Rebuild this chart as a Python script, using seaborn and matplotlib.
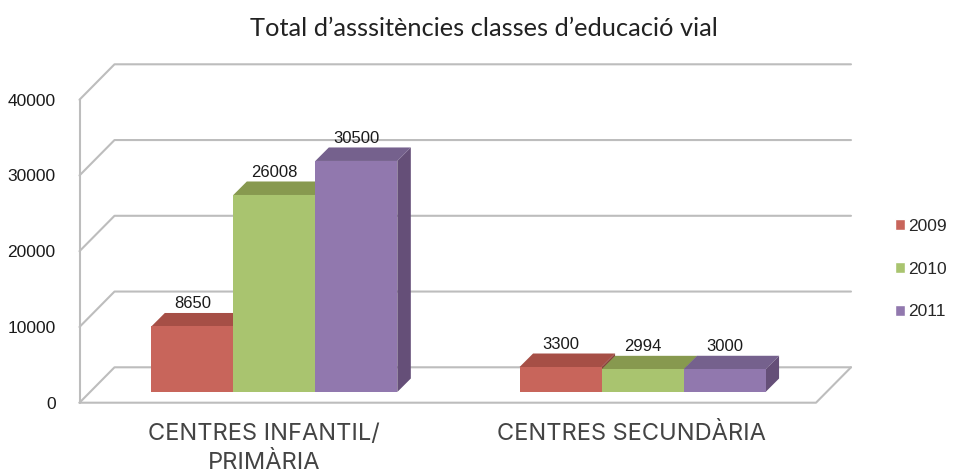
import matplotlib.pyplot as plt
import pandas as pd
import seaborn as sns
from matplotlib.patches import Polygon

centres = ['CENTRES INFANTIL/\nPRIMÀRIA', 'CENTRES SECUNDÀRIA']
years = ['2009', '2010', '2011']
values_2009 = [8650, 3300]
values_2010 = [26008, 2994]
values_2011 = [30500, 3000]
y_ticks = [0, 10000, 20000, 30000, 40000]
title = 'Total d’asssitències classes d’educació vial'

front_colors = ['#C8655B', '#A9C46F', '#9178AE']
top_colors = ['#A64F46', '#87994F', '#75618D']
side_colors = ['#87423B', '#6E7F42', '#654F78']
grid_color = '#BDBDBD'

W, H = 956, 474
# bars stand on a plane, px positions of that plane in the picture
left, right, base, top = 90.2, 826.7, 392, 89

sns.set_style('white')
plt.rcParams['font.family'] = ['Liberation Sans', 'DejaVu Sans']

df = pd.DataFrame({'Centre': centres * 3,
                   'Any': [y for y in years for _ in centres],
                   'Total': values_2009 + values_2010 + values_2011})

fig = plt.figure(figsize=(W / 100, H / 100), dpi=100)
ax = fig.add_axes([left / W, (H - base) / H, (right - left) / W, (base - top) / H])
sns.barplot(data=df, x='Centre', y='Total', hue='Any', hue_order=years,
            palette=front_colors, saturation=1, width=0.668, gap=0, ax=ax)
ax.set_xlim(-0.5, 1.5)
ax.set_ylim(0, 40000)
ax.axis('off')

# px to data units
ux = 2 / (right - left)
uy = 40000 / (base - top)


def line(xs, ys):
    ax.plot(xs, ys, color=grid_color, lw=1.5, clip_on=False, zorder=1,
            solid_capstyle='round')


front_x, front_y = -10.7 * ux, -10.7 * uy
back_x, back_y = 24.3 * ux, 24.7 * uy

# walls and floor
for t in y_ticks:
    line([-0.5 + front_x, -0.5 + back_x, 1.5 + back_x], [t + front_y, t + back_y, t + back_y])
line([-0.5 + front_x, -0.5 + front_x], [front_y, 40000 + front_y])
line([-0.5 + front_x, 1.5 + front_x, 1.5 + back_x], [front_y, front_y, back_y])

# depth of the bars
dx, dy = 13.5 * ux, 13.5 * uy
for i, cont in enumerate(ax.containers):
    for bar in cont:
        bar.set_zorder(3)
        bar.set_linewidth(0)
        x0, x1, h = bar.get_x(), bar.get_x() + bar.get_width(), bar.get_height()
        ax.add_patch(Polygon([(x1, 0), (x1 + dx, dy), (x1 + dx, h + dy), (x1, h)],
                             color=side_colors[i], lw=0, clip_on=False, zorder=2))
        ax.add_patch(Polygon([(x0, h), (x0 + dx, h + dy), (x1 + dx, h + dy), (x1, h)],
                             color=top_colors[i], lw=0, clip_on=False, zorder=2))
    labels = ax.bar_label(cont, fmt='%d', padding=11, fontsize=12, color='#1A1A1A', zorder=5)
    for lab in labels:
        lab.set_clip_on(False)

for t in y_ticks:
    ax.text(-0.5 + front_x - 24 * ux, t + front_y - 1.5 * uy, str(t), ha='right', va='center',
            fontsize=12.5, color='#1A1A1A', clip_on=False)

for i, c in enumerate(centres):
    ax.text(i + front_x, -31 * uy, c, ha='center', va='top', fontsize=17,
            family=['Inter', 'DejaVu Sans'], color='#444444', linespacing=1.4, clip_on=False)

sns.move_legend(ax, 'center left', bbox_to_anchor=(879 / W, (H - 269) / H),
                bbox_transform=fig.transFigure, frameon=False, title=None,
                fontsize=12.5, handlelength=0.58, handleheight=0.58,
                handletextpad=0.2, labelspacing=1.6)

fig.text(484 / W, (H - 28) / H, title, ha='center', va='center', fontsize=18.3,
         family=['Lato', 'DejaVu Sans'], color='#222222')

fig.savefig('out.png', dpi=100)
